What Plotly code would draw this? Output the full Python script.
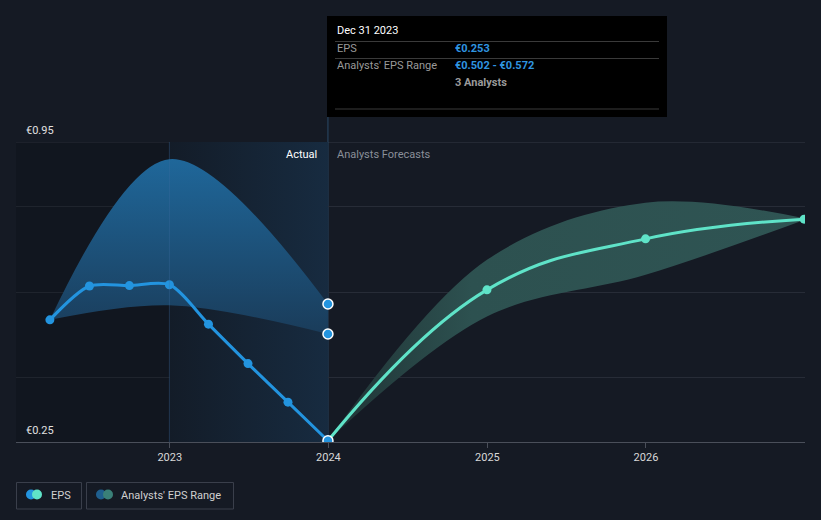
import plotly.graph_objects as go

# ---- data ----
eps_dates = ["2022-03-31", "2022-06-30", "2022-09-30", "2022-12-31",
             "2023-03-31", "2023-06-30", "2023-09-30", "2023-12-31"]
eps_values = [0.535, 0.614, 0.615, 0.617, 0.525, 0.433, 0.343, 0.253]

past_range_dates = ["2022-03-31", "2022-12-31", "2023-12-31"]
past_range_high = [0.535, 0.910, 0.572]
past_range_low = [0.535, 0.569, 0.502]

fc_dates = ["2023-12-31", "2024-12-31", "2025-12-31", "2026-12-31"]
fc_eps = [0.253, 0.605, 0.724, 0.770]
fc_high = [0.253, 0.675, 0.808, 0.772]
fc_low = [0.253, 0.543, 0.640, 0.768]

tick_dates = ["2023-01-01", "2024-01-01", "2025-01-01", "2026-01-01"]
tick_labels = ["2023", "2024", "2025", "2026"]

BG = "#151a24"
BLUE = "#2394df"
TEAL = "#5fe3c8"
FONT = "Roboto"

def fx(px):
    return (px - 16) / 789.0

def fy(py):
    return (442 - py) / 300.0

fig = go.Figure()

# darker area before 2023
fig.add_trace(go.Scatter(
    x=["2022-01-10", "2022-12-31", "2022-12-31", "2022-01-10"],
    y=[0.25, 0.25, 0.95, 0.95], mode="lines", line=dict(width=0),
    fill="toself", fillcolor="rgba(8,10,14,0.25)", hoverinfo="skip", showlegend=False))

# highlight region (actual) 2023 -> 2024
fig.add_trace(go.Scatter(
    x=["2022-12-31", "2023-12-31", "2023-12-31", "2022-12-31"],
    y=[0.25, 0.25, 0.95, 0.95], mode="lines", line=dict(width=0),
    fill="toself",
    fillgradient=dict(type="horizontal",
                      colorscale=[[0, "#131c28"], [1, "#172b40"]]),
    hoverinfo="skip", showlegend=False))

# past range band
fig.add_trace(go.Scatter(
    x=past_range_dates, y=past_range_high, mode="lines",
    line=dict(width=0, shape="spline", smoothing=1), hoverinfo="skip", showlegend=False))
fig.add_trace(go.Scatter(
    x=past_range_dates, y=past_range_low, mode="lines",
    line=dict(width=0, shape="spline", smoothing=1), fill="tonexty",
    fillgradient=dict(type="vertical",
                      colorscale=[[0, "#1a3c5a"], [1, "#1f679a"]]),
    hoverinfo="skip", showlegend=False))

# forecast range band
fig.add_trace(go.Scatter(
    x=fc_dates, y=fc_high, mode="lines",
    line=dict(width=0, shape="spline", smoothing=1), hoverinfo="skip", showlegend=False))
fig.add_trace(go.Scatter(
    x=fc_dates, y=fc_low, mode="lines",
    line=dict(width=0, shape="spline", smoothing=1), fill="tonexty",
    fillgradient=dict(type="horizontal",
                      colorscale=[[0, "#1f3234"], [0.3, "#2d5150"], [1, "#2f5453"]]),
    hoverinfo="skip", showlegend=False))

# forecast EPS line
fig.add_trace(go.Scatter(
    x=fc_dates, y=fc_eps, mode="lines+markers",
    line=dict(color=TEAL, width=3, shape="spline", smoothing=1.2),
    marker=dict(size=9, color=TEAL), hoverinfo="skip", showlegend=False))

# EPS actual line
fig.add_trace(go.Scatter(
    x=eps_dates, y=eps_values, mode="lines+markers",
    line=dict(color=BLUE, width=3, shape="spline", smoothing=0.8),
    marker=dict(size=9, color=BLUE), hoverinfo="skip", showlegend=False))

# highlighted markers at Dec 31 2023
fig.add_trace(go.Scatter(
    x=[eps_dates[-1], past_range_dates[-1], past_range_dates[-1]],
    y=[eps_values[-1], past_range_high[-1], past_range_low[-1]],
    mode="markers",
    marker=dict(size=10, color=BLUE, line=dict(color="#ffffff", width=1.5)),
    hoverinfo="skip", showlegend=False))

shapes = []
# top line at 0.95
shapes.append(dict(type="line", xref="paper", yref="y", x0=0, x1=1, y0=0.95, y1=0.95,
                   line=dict(color="#343945", width=1), layer="below"))
# vertical line at 2023 boundary
shapes.append(dict(type="line", xref="x", yref="paper", x0="2022-12-31", x1="2022-12-31",
                   y0=0, y1=1, line=dict(color="rgba(60,110,160,0.35)", width=1), layer="above"))
# vertical hover line at Dec 31 2023
shapes.append(dict(type="line", xref="x", yref="paper", x0="2023-12-31", x1="2023-12-31",
                   y0=0, y1=fy(117), line=dict(color="#2a4a68", width=1), layer="below"))
# tooltip box
shapes.append(dict(type="rect", xref="paper", yref="paper",
                   x0=fx(327), x1=fx(667), y0=fy(117), y1=fy(16),
                   fillcolor="#000000", line=dict(width=0), layer="above"))
for ly in [41.5, 58.5, 109]:
    shapes.append(dict(type="line", xref="paper", yref="paper",
                       x0=fx(335), x1=fx(659), y0=fy(ly), y1=fy(ly),
                       line=dict(color="#3a3a3a", width=1), layer="above"))
# legend boxes
shapes.append(dict(type="rect", xref="paper", yref="paper",
                   x0=fx(16.5), x1=fx(81.5), y0=fy(509), y1=fy(482.5),
                   line=dict(color="#3a3f4b", width=1), fillcolor="rgba(0,0,0,0)"))
shapes.append(dict(type="rect", xref="paper", yref="paper",
                   x0=fx(86.5), x1=fx(233.5), y0=fy(509), y1=fy(482.5),
                   line=dict(color="#3a3f4b", width=1), fillcolor="rgba(0,0,0,0)"))
for cx, col in [(31, BLUE), (37, TEAL), (101, "#1f5f8e"), (108, "#3a8078")]:
    shapes.append(dict(type="circle", xref="paper", yref="paper",
                       xsizemode="pixel", ysizemode="pixel",
                       xanchor=fx(cx), yanchor=fy(494.5),
                       x0=-5, x1=5, y0=-5, y1=5,
                       fillcolor=col, line=dict(width=0)))

annotations = []
def txt(text, px, py, color, size=11, anchor="left", weight=None):
    t = text if weight is None else "<b>" + text + "</b>"
    annotations.append(dict(text=t, x=fx(px), y=fy(py), xref="paper", yref="paper",
                            xanchor=anchor, yanchor="middle", showarrow=False,
                            font=dict(family=FONT, size=size, color=color)))

txt("€0.95", 24, 130, "#e0e0e0")
txt("€0.25", 24, 430, "#e0e0e0")
txt("Actual", 319, 154, "#ffffff", anchor="right")
txt("Analysts Forecasts", 335, 154, "#8a8f99")
txt("Dec 31 2023", 335, 31, "#ffffff")
txt("EPS", 335, 49, "#9a9a9a")
txt("€0.253", 453, 49, "#2f95e0", weight="b")
txt("Analysts' EPS Range", 335, 66, "#9a9a9a")
txt("€0.502 - €0.572", 453, 66, "#2f95e0", weight="b")
txt("3 Analysts", 453, 83, "#9a9a9a", weight="b")
txt("EPS", 49, 495.5, "#d0d0d0")
txt("Analysts' EPS Range", 119, 495.5, "#d0d0d0")

fig.update_layout(
    width=821, height=520,
    margin=dict(l=16, r=16, t=142, b=78),
    paper_bgcolor=BG, plot_bgcolor=BG,
    showlegend=False,
    shapes=shapes, annotations=annotations,
    font=dict(family=FONT),
    xaxis=dict(type="date", range=["2022-01-12", "2027-01-02"],
               tickvals=tick_dates, ticktext=tick_labels,
               showgrid=False, zeroline=False,
               showline=True, linecolor="#4a4f5a", linewidth=1,
               ticks="outside", ticklen=5, tickcolor="#4a4f5a",
               tickfont=dict(family=FONT, size=11, color="#d8d8d8")),
    yaxis=dict(range=[0.25, 0.95], tickvals=[0.4, 0.6, 0.8],
               showticklabels=False, showgrid=True, gridcolor="#272c37",
               zeroline=False, showline=False),
)

fig.write_html(
    "out.html",
    config={"displayModeBar": False},
    post_script="document.body.style.margin='0';document.body.style.padding='0';"
                "document.body.style.background='#151a24';"
                "document.documentElement.style.background='#151a24';",
)
